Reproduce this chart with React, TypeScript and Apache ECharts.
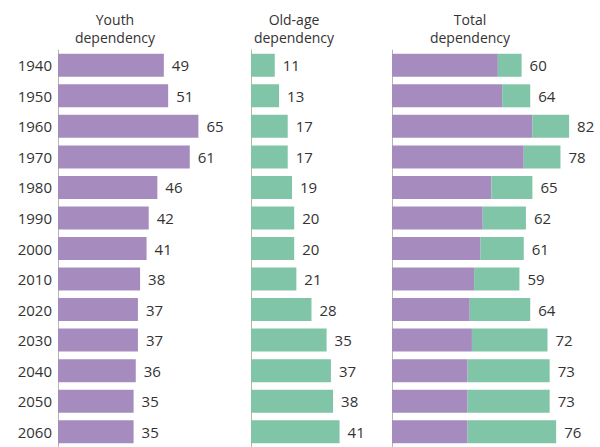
import React, { useEffect, useRef } from "react";
import * as echarts from "echarts";

const years = ["1940", "1950", "1960", "1970", "1980", "1990", "2000", "2010", "2020", "2030", "2040", "2050", "2060"];
const youth = [49, 51, 65, 61, 46, 42, 41, 38, 37, 37, 36, 35, 35];
const oldAge = [11, 13, 17, 17, 19, 20, 20, 21, 28, 35, 37, 38, 41];
const totalYouth = [49, 51, 65, 61, 46, 42, 41, 38, 36, 37, 35, 35, 35];
const totalOld = [11, 13, 17, 17, 19, 20, 20, 21, 28, 35, 38, 38, 41];
const totals = [60, 64, 82, 78, 65, 62, 61, 59, 64, 72, 73, 73, 76];
const titles = ["Youth\ndependency", "Old-age\ndependency", "Total\ndependency"];

const PURPLE = "#a68bbe";
const GREEN = "#80c5a8";
const TEXT = "#333333";
const FONT = "Open Sans";

export default function App() {
  const ref = useRef<HTMLDivElement>(null);
  useEffect(() => {
    if (!ref.current) return;
    const chart = echarts.init(ref.current, null, { renderer: "svg" });
    const scale = 2.16;
    const grids = [
      { left: 58, max: 80 },
      { left: 251, max: 60 },
      { left: 392, max: 90 },
    ];
    const titleX = [115, 294, 470];
    const labelStyle = {
      show: true,
      position: "right" as const,
      distance: 8,
      color: TEXT,
      fontSize: 15,
      fontFamily: FONT,
    };
    chart.setOption({
      animation: false,
      grid: grids.map((g) => ({ left: g.left, top: 50, height: 398, width: g.max * scale })),
      xAxis: grids.map((g, i) => ({
        type: "value",
        gridIndex: i,
        min: 0,
        max: g.max,
        show: false,
      })),
      yAxis: grids.map((g, i) => ({
        type: "category",
        gridIndex: i,
        data: years,
        inverse: true,
        axisLine: { show: true, lineStyle: { color: "#b5b5b5", width: 1 } },
        axisTick: { show: false },
        axisLabel: {
          show: i === 0,
          color: TEXT,
          fontSize: 15,
          fontFamily: FONT,
          margin: 6,
        },
      })),
      graphic: titles.map((t, i) => ({
        type: "text",
        x: titleX[i],
        y: 10,
        style: {
          text: t,
          textAlign: "center",
          textVerticalAlign: "top",
          fontSize: 14,
          lineHeight: 18,
          fontFamily: FONT,
          fill: TEXT,
        },
      })),
      series: [
        {
          type: "bar",
          xAxisIndex: 0,
          yAxisIndex: 0,
          data: youth,
          barWidth: 23,
          itemStyle: { color: PURPLE },
          label: labelStyle,
        },
        {
          type: "bar",
          xAxisIndex: 1,
          yAxisIndex: 1,
          data: oldAge,
          barWidth: 23,
          itemStyle: { color: GREEN },
          label: labelStyle,
        },
        {
          type: "bar",
          xAxisIndex: 2,
          yAxisIndex: 2,
          stack: "total",
          data: totalYouth,
          barWidth: 23,
          itemStyle: { color: PURPLE },
        },
        {
          type: "bar",
          xAxisIndex: 2,
          yAxisIndex: 2,
          stack: "total",
          data: totalOld,
          barWidth: 23,
          itemStyle: { color: GREEN },
          label: { ...labelStyle, formatter: (p: any) => String(totals[p.dataIndex]) },
        },
      ],
    });
    return () => chart.dispose();
  }, []);
  return (
    <div
      ref={ref}
      style={{ position: "fixed", left: 0, top: 0, width: 600, height: 447, background: "#ffffff" }}
    />
  );
}
